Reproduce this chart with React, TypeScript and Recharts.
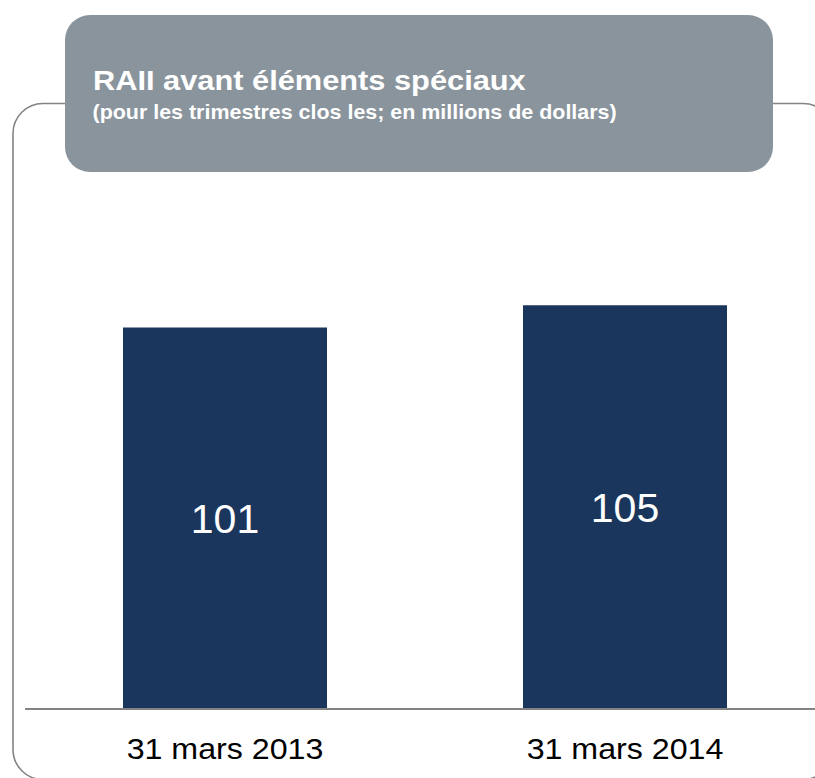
import { Bar, BarChart, LabelList, XAxis, YAxis } from "recharts";

const QUARTERS = ["31 mars 2013", "31 mars 2014"];
const EBIT = [101, 105];

const TITLE = "RAII avant éléments spéciaux";
const SUBTITLE = "(pour les trimestres clos les; en millions de dollars)";

const BAR_COLOR = "#1b365d";
const PANEL_COLOR = "#89949d";
const LINE_COLOR = "#838383";
const FONT = "'Liberation Sans', Arial, sans-serif";

const data = QUARTERS.map((q, i) => ({ quarter: q, value: EBIT[i] }));

// the source type runs about 10% wider than Arial, so widen the glyphs a bit
function QuarterTick({ x, y, payload }: any) {
  return (
    <g transform={`translate(${x},${y + 42}) scale(1.11,1)`}>
      <text textAnchor="middle" fill="#000" fontSize={29} fontFamily={FONT}>
        {payload.value}
      </text>
    </g>
  );
}

export default function App() {
  return (
    <div
      style={{
        position: "absolute", left: 0, top: 0, width: 815, height: 778,
        overflow: "hidden", background: "#fff",
      }}
    >
      <BarChart
        width={840}
        height={778}
        data={data}
        margin={{ top: 250, right: 15, bottom: 0, left: 25 }}
      >
        <YAxis hide domain={[32, 115]} />
        <XAxis
          dataKey="quarter"
          axisLine={{ stroke: LINE_COLOR, strokeWidth: 2 }}
          tickLine={false}
          height={69}
          tick={<QuarterTick />}
          interval={0}
        />
        <Bar dataKey="value" fill={BAR_COLOR} barSize={204} isAnimationActive={false}>
          <LabelList
            dataKey="value"
            position="center"
            fill="#fff"
            fontSize={41}
            fontFamily={FONT}
          />
        </Bar>
      </BarChart>

      <svg
        width={815}
        height={778}
        style={{ position: "absolute", left: 0, top: 0, pointerEvents: "none" }}
      >
        <rect x={13} y={103.5} width={820} height={676} rx={30} ry={30}
          fill="none" stroke={LINE_COLOR} strokeWidth={1.6} />
        <rect x={65} y={15} width={708} height={157} rx={25} ry={25} fill={PANEL_COLOR} />
        <g transform="translate(93,90) scale(1.08,1)">
          <text fill="#fff" fontSize={28.5} fontWeight="bold" fontFamily={FONT}>
            {TITLE}
          </text>
        </g>
        <g transform="translate(92.5,119) scale(1.1,1)">
          <text fill="#fff" fontSize={19.5} fontWeight="bold" fontFamily={FONT}>
            {SUBTITLE}
          </text>
        </g>
      </svg>
    </div>
  );
}
